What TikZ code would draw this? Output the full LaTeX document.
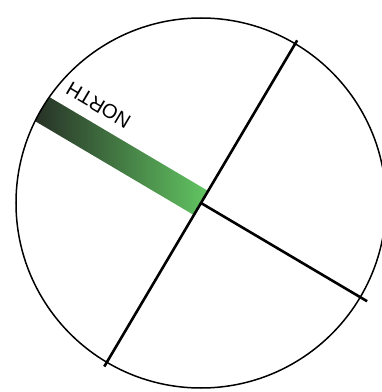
\documentclass[tikz,border=0pt]{standalone}
\usepackage{fontspec}
\setmainfont{Liberation Sans}
\definecolor{northdark}{RGB}{34,38,34}
\definecolor{northgreen}{RGB}{98,198,98}
\usetikzlibrary{calc}
\tikzset{
  rim/.style={draw=black,line width=1.5pt},
  axisline/.style={draw=black,line width=2.6pt},
  needle/.style={left color=northdark,right color=northgreen},
  northlabel/.style={font=\fontsize{20}{20}\selectfont,transform shape},
}
\begin{document}
\begin{tikzpicture}[x=1pt,y=1pt]
  \useasboundingbox (0,0) rectangle (382,392);
  \coordinate (O) at (201,189);
  % green pointer, cut off by the rim
  \begin{scope}
    \clip (O) circle (185);
    \begin{scope}[shift={(O)},rotate=149.4]
      \shade[needle] (200,-14) rectangle (0,14);
      \node[northlabel] (north) at (138,-32) {NORTH};
    \end{scope}
  \end{scope}
  \draw[rim] (O) circle (185);
  % the two axes
  \coordinate (ne) at ($(O)+(59.4:189)$);
  \coordinate (sw) at ($(O)+(239.4:190)$);
  \coordinate (se) at ($(O)+(-30.6:193)$);
  \draw[axisline] (ne) -- (sw);
  \draw[axisline] (O) -- (se);
\end{tikzpicture}
\end{document}
